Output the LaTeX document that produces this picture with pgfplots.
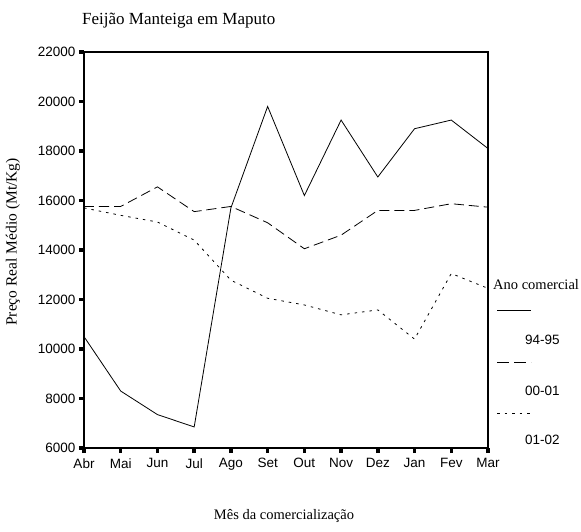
\documentclass[border=0pt]{standalone}
\usepackage{fontspec}
\setmainfont{Liberation Serif}
\newfontfamily\sans{Liberation Sans}
\usepackage{pgfplots}
\pgfplotsset{compat=1.18}
\begin{document}
\begin{tikzpicture}
\path[use as bounding box] (0,0) rectangle (581pt,531pt);
\begin{axis}[
  scale only axis,
  width=404pt, height=396pt,
  at={(84pt,83pt)}, anchor=south west,
  xmin=0, xmax=11, ymin=6000, ymax=22000,
  xtick={0,...,11},
  xticklabels={Abr,Mai,Jun,Jul,Ago,Set,Out,Nov,Dez,Jan,Fev,Mar},
  ytick={6000,8000,...,22000},
  scaled y ticks=false,
  /pgf/number format/assume math mode=true,
  /pgf/number format/1000 sep={},
  tick label style={font=\sans\fontsize{13.5}{13.5}\selectfont},
  xticklabel style={yshift=-2pt},
  yticklabel style={xshift=0pt},
  xtick pos=left, ytick pos=left,
  tick align=outside,
  major tick length=5pt,
  major tick style={black, line width=3.5pt},
  axis line style={line width=1.2pt},
  clip=false,
]
\addplot[black, line width=0.8pt] coordinates {
(0,10500) (1,8300) (2,7350) (3,6850) (4,15700) (5,19800) (6,16200) (7,19250) (8,16950) (9,18900) (10,19250) (11,18100)};
\addplot[black, line width=0.8pt, dash pattern=on 10pt off 5pt] coordinates {
(0,15760) (1,15760) (2,16550) (3,15550) (4,15760) (5,15100) (6,14050) (7,14600) (8,15600) (9,15600) (10,15870) (11,15730)};
\addplot[black, line width=0.8pt, dash pattern=on 2.5pt off 5pt] coordinates {
(0,15700) (1,15400) (2,15130) (3,14400) (4,12780) (5,12050) (6,11780) (7,11380) (8,11580) (9,10400) (10,13050) (11,12450)};
\end{axis}
% title
\node[anchor=base west, inner sep=0pt, font=\fontsize{17}{17}\selectfont] at (82pt,506pt) {Feijão Manteiga em Maputo};
% y label
\node[rotate=90, inner sep=0pt, font=\fontsize{15.5}{15.5}\selectfont] at (13pt,289pt) {Preço Real Médio (Mt/Kg)};
% x label
\node[inner sep=0pt, font=\fontsize{14.5}{14.5}\selectfont] at (284pt,15pt) {Mês da comercialização};
% legend
\node[anchor=west, inner sep=0pt, font=\fontsize{14.5}{14.5}\selectfont] at (493pt,246pt) {Ano comercial};
\draw[black, line width=0.8pt] (497pt,221pt) -- (531pt,221pt);
\node[anchor=west, inner sep=0pt, font=\sans\fontsize{13.5}{13.5}\selectfont] at (525pt,191pt) {94-95};
\draw[black, line width=0.8pt, dash pattern=on 12pt off 5pt] (497pt,169pt) -- (531pt,169pt);
\node[anchor=west, inner sep=0pt, font=\sans\fontsize{13.5}{13.5}\selectfont] at (525pt,140pt) {00-01};
\draw[black, line width=0.8pt, dash pattern=on 2.5pt off 5pt] (497pt,118pt) -- (531pt,118pt);
\node[anchor=west, inner sep=0pt, font=\sans\fontsize{13.5}{13.5}\selectfont] at (525pt,91pt) {01-02};
\end{tikzpicture}
\end{document}
